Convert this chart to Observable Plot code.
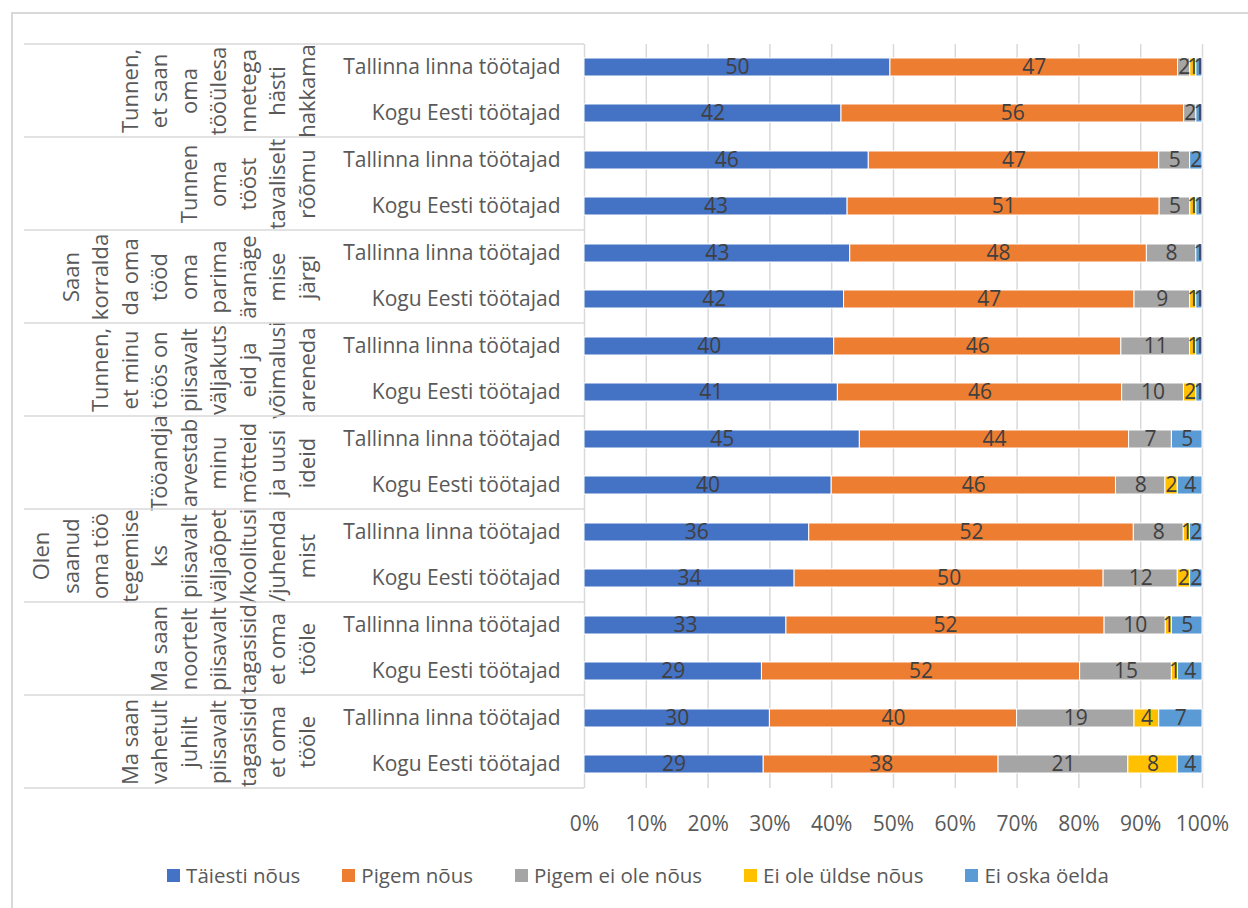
<!DOCTYPE html>
<html>
<head>
<meta charset="utf-8">
<script src="https://cdn.jsdelivr.net/npm/d3@7"></script>
<script src="https://cdn.jsdelivr.net/npm/@observablehq/plot@0.6"></script>
<style>
  html, body { margin: 0; padding: 0; background: #fff; }
  body { width: 1248px; height: 908px; overflow: hidden; position: relative; font-family: "Open Sans", sans-serif; }
  #chart { position: absolute; left: 0; top: 0; }
  #frame { position: absolute; left: 11px; top: 12px; width: 1400px; height: 1200px; border: 2px solid #d9d9d9; pointer-events: none; }
  #legend { position: absolute; top: 861px; left: 0; width: 1248px; display: flex; justify-content: center; gap: 42px; padding-left: 28px; box-sizing: border-box; font-size: 20.5px; color: #595959; }
  #legend .item { display: flex; align-items: center; gap: 6px; }
  #legend .sw { width: 13px; height: 13px; display: inline-block; }
</style>
</head>
<body>
<div id="chart"></div>
<div id="legend"></div>
<div id="frame"></div>
<script>
const groups = [
  "Tunnen, et saan oma tööülesannetega hästi hakkama",
  "Tunnen oma tööst tavaliselt rõõmu",
  "Saan korraldada oma tööd oma parima äranägemise järgi",
  "Tunnen, et minu töös on piisavalt väljakutseid ja võimalusi areneda",
  "Tööandja arvestab minu mõtteid ja uusi ideid",
  "Olen saanud oma töö tegemiseks piisavalt väljaõpet/koolitusi/juhendamist",
  "Ma saan noortelt piisavalt tagasisidet oma tööle",
  "Ma saan vahetult juhilt piisavalt tagasisidet oma tööle"
];
const groupLabelLines = [
  ["Tunnen,", "et saan", "oma", "tööülesa", "nnetega", "hästi", "hakkama"],
  ["Tunnen", "oma", "tööst", "tavaliselt", "rõõmu"],
  ["Saan", "korralda", "da oma", "tööd", "oma", "parima", "äranäge", "mise", "järgi"],
  ["Tunnen,", "et minu", "töös on", "piisavalt", "väljakuts", "eid ja", "võimalusi", "areneda"],
  ["Tööandja", "arvestab", "minu", "mõtteid", "ja uusi", "ideid"],
  ["Olen", "saanud", "oma töö", "tegemise", "ks", "piisavalt", "väljaõpet", "/koolitusi", "/juhenda", "mist"],
  ["Ma saan", "noortelt", "piisavalt", "tagasisid", "et oma", "tööle"],
  ["Ma saan", "vahetult", "juhilt", "piisavalt", "tagasisid", "et oma", "tööle"]
];
const rows = ["Tallinna linna töötajad", "Kogu Eesti töötajad"];
const series = ["Täiesti nõus", "Pigem nõus", "Pigem ei ole nõus", "Ei ole üldse nõus", "Ei oska öelda"];
const colors = ["#4472C4", "#ED7D31", "#A5A5A5", "#FFC000", "#5B9BD5"];
const tallinnValues = [
  [50, 47, 2, 1, 1],
  [46, 47, 5, 0, 2],
  [43, 48, 8, 0, 1],
  [40, 46, 11, 1, 1],
  [45, 44, 7, 0, 5],
  [36, 52, 8, 1, 2],
  [33, 52, 10, 1, 5],
  [30, 40, 19, 4, 7]
];
const eestiValues = [
  [42, 56, 2, 0, 1],
  [43, 51, 5, 1, 1],
  [42, 47, 9, 1, 1],
  [41, 46, 10, 2, 1],
  [40, 46, 8, 2, 4],
  [34, 50, 12, 2, 2],
  [29, 52, 15, 1, 4],
  [29, 38, 21, 8, 4]
];
const xTicks = [0, 0.1, 0.2, 0.3, 0.4, 0.5, 0.6, 0.7, 0.8, 0.9, 1];

const data = [];
groups.forEach((g, gi) => {
  [tallinnValues, eestiValues].forEach((vals, ri) => {
    series.forEach((s, si) => {
      data.push({group: g, row: rows[ri], series: s, value: vals[gi][si]});
    });
  });
});

const W = 1248, H = 850, mL = 584, mR = 46, mT = 42, mB = 60;
const fontFamily = "'Open Sans', sans-serif";

const chart = Plot.plot({
  width: W,
  height: H,
  marginLeft: mL,
  marginRight: mR,
  marginTop: mT,
  marginBottom: mB,
  style: {fontSize: "21px", fontFamily, color: "#595959", background: "transparent", overflow: "visible"},
  x: {domain: [0, 1], ticks: xTicks, tickFormat: ".0%", tickSize: 0, tickPadding: 28, label: null},
  y: {domain: rows, paddingInner: 0.6, paddingOuter: 0.3, tickSize: 0, tickPadding: 24, label: null},
  fy: {domain: groups, padding: 0, axis: null, label: null},
  color: {domain: series, range: colors},
  marks: [
    Plot.ruleX(xTicks, {stroke: "#d9d9d9", strokeWidth: 1.5}),
    Plot.barX(data, Plot.stackX({offset: "normalize", x: "value", y: "row", fy: "group", fill: "series", stroke: "white", strokeWidth: 1})),
    Plot.text(data, Plot.stackX({offset: "normalize", x: "value", y: "row", fy: "group", z: "series",
      filter: d => d.value > 0, text: d => String(d.value), fill: "#404040", fontSize: 21})),
    Plot.text(data, {
      filter: d => d.row === rows[0] && d.series === series[0],
      fy: "group",
      text: d => groupLabelLines[groups.indexOf(d.group)].join("\n"),
      frameAnchor: "left", dx: -270, rotate: -90, textAnchor: "middle", lineAnchor: "bottom",
      lineHeight: 1.34, fontSize: 22, fill: "#595959"
    })
  ]
});
document.getElementById("chart").appendChild(chart);

// separator lines in the label column, at facet band edges from the fy scale
const fy = chart.scale("fy");
const svg = d3.select(chart);
const edges = [];
groups.forEach((g, i) => {
  let top, bw;
  if (fy && typeof fy.apply === "function") { top = fy.apply(g); bw = fy.bandwidth; }
  else { bw = (H - mT - mB) / groups.length; top = mT + i * bw; }
  edges.push(top);
  if (i === groups.length - 1) edges.push(top + bw);
});
svg.append("g").selectAll("line").data(edges).join("line")
  .attr("x1", 24).attr("x2", mL).attr("y1", d => d).attr("y2", d => d)
  .attr("stroke", "#d9d9d9").attr("stroke-width", 1.5);

const legend = d3.select("#legend");
series.forEach((s, i) => {
  const it = legend.append("div").attr("class", "item");
  it.append("span").attr("class", "sw").style("background", colors[i]);
  it.append("span").text(s);
});
</script>
</body>
</html>
